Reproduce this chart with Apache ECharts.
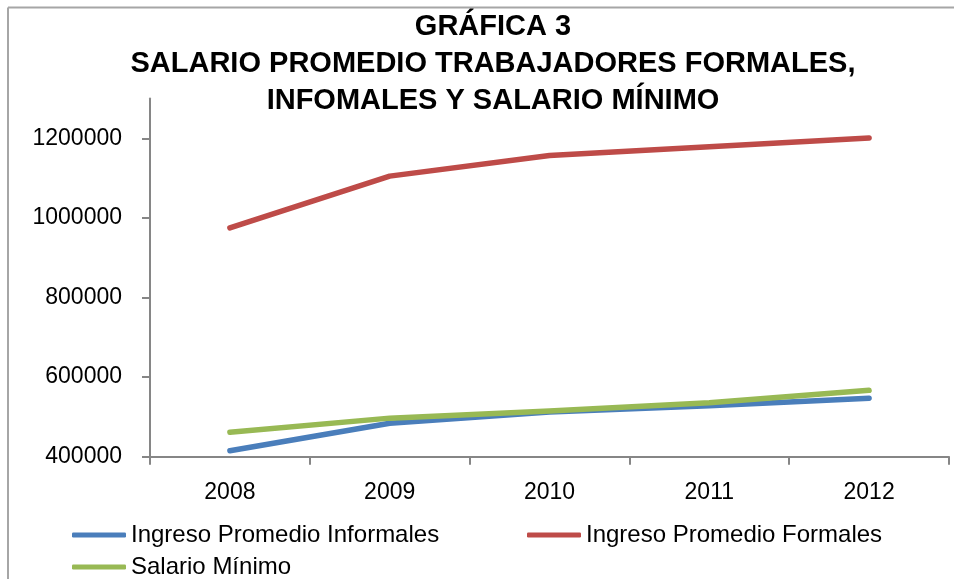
<!DOCTYPE html>
<html>
<head>
<meta charset="utf-8">
<script src="https://cdn.jsdelivr.net/npm/echarts@6/dist/echarts.min.js"></script>
<style>
html,body{margin:0;padding:0;background:#fff;}
#main{width:954px;height:579px;}
</style>
</head>
<body>
<div id="main"></div>
<script>
// datos
var years = ['2008', '2009', '2010', '2011', '2012'];
var informales = [415000, 484000, 512000, 528000, 547000];
var formales = [975000, 1105000, 1157000, 1179000, 1201000];
var salarioMinimo = [461500, 496900, 515000, 535600, 566700];
var yTicks = [400000, 600000, 800000, 1000000, 1200000];

var nombres = ['Ingreso Promedio Informales', 'Ingreso Promedio Formales', 'Salario Mínimo'];
var colores = ['#4A7EBB', '#BE4B48', '#98B954'];

var axisColor = '#868686';
var fuente = 'Liberation Sans';

var myChart = echarts.init(document.getElementById('main'));

function serie(nombre, datos, color) {
    return {
        name: nombre,
        type: 'line',
        data: datos,
        symbol: 'none',
        itemStyle: {color: color},
        lineStyle: {width: 5.5, color: color, cap: 'round', join: 'round'}
    };
}

function leyenda(nombre, left, top) {
    return {
        data: [nombre],
        left: left,
        top: top,
        padding: 0,
        icon: 'roundRect',
        itemWidth: 54,
        itemHeight: 5,
        textStyle: {fontFamily: fuente, fontSize: 24, color: '#000'}
    };
}

var option = {
    animation: false,
    backgroundColor: '#fff',
    title: {
        text: 'GRÁFICA 3\nSALARIO PROMEDIO TRABAJADORES FORMALES,\nINFOMALES Y SALARIO MÍNIMO',
        left: 488,
        top: 3,
        textAlign: 'center',
        textStyle: {
            fontFamily: fuente,
            fontSize: 29,
            fontWeight: 'bold',
            color: '#000',
            lineHeight: 37
        }
    },
    graphic: [
        {type: 'line', shape: {x1: 8, y1: 7.5, x2: 954, y2: 7.5}, style: {stroke: '#a6a6a6', lineWidth: 2}},
        {type: 'line', shape: {x1: 8, y1: 7.5, x2: 8, y2: 579}, style: {stroke: '#a6a6a6', lineWidth: 2}}
    ],
    legend: [
        leyenda(nombres[0], 72, 523),
        leyenda(nombres[1], 527, 523),
        leyenda(nombres[2], 72, 555)
    ],
    grid: {left: 150, right: 5, top: 98.5, bottom: 122.3},
    xAxis: {
        type: 'category',
        data: years,
        boundaryGap: true,
        axisLine: {lineStyle: {color: axisColor, width: 2}},
        axisTick: {show: true, length: 8, alignWithLabel: false, lineStyle: {color: axisColor, width: 2}},
        axisLabel: {fontFamily: fuente, fontSize: 23, color: '#000', margin: 24}
    },
    yAxis: {
        type: 'value',
        min: 400000,
        max: 1300000,
        interval: 200000,
        splitLine: {show: false},
        axisLine: {show: true, lineStyle: {color: axisColor, width: 2}},
        axisTick: {show: true, length: 8, customValues: yTicks, lineStyle: {color: axisColor, width: 2}},
        axisLabel: {
            fontFamily: fuente, fontSize: 23, color: '#000', margin: 28, customValues: yTicks,
            formatter: function(v){ return String(v); }
        }
    },
    series: [
        serie(nombres[0], informales, colores[0]),
        serie(nombres[1], formales, colores[1]),
        serie(nombres[2], salarioMinimo, colores[2])
    ]
};
myChart.setOption(option);
</script>
</body>
</html>
